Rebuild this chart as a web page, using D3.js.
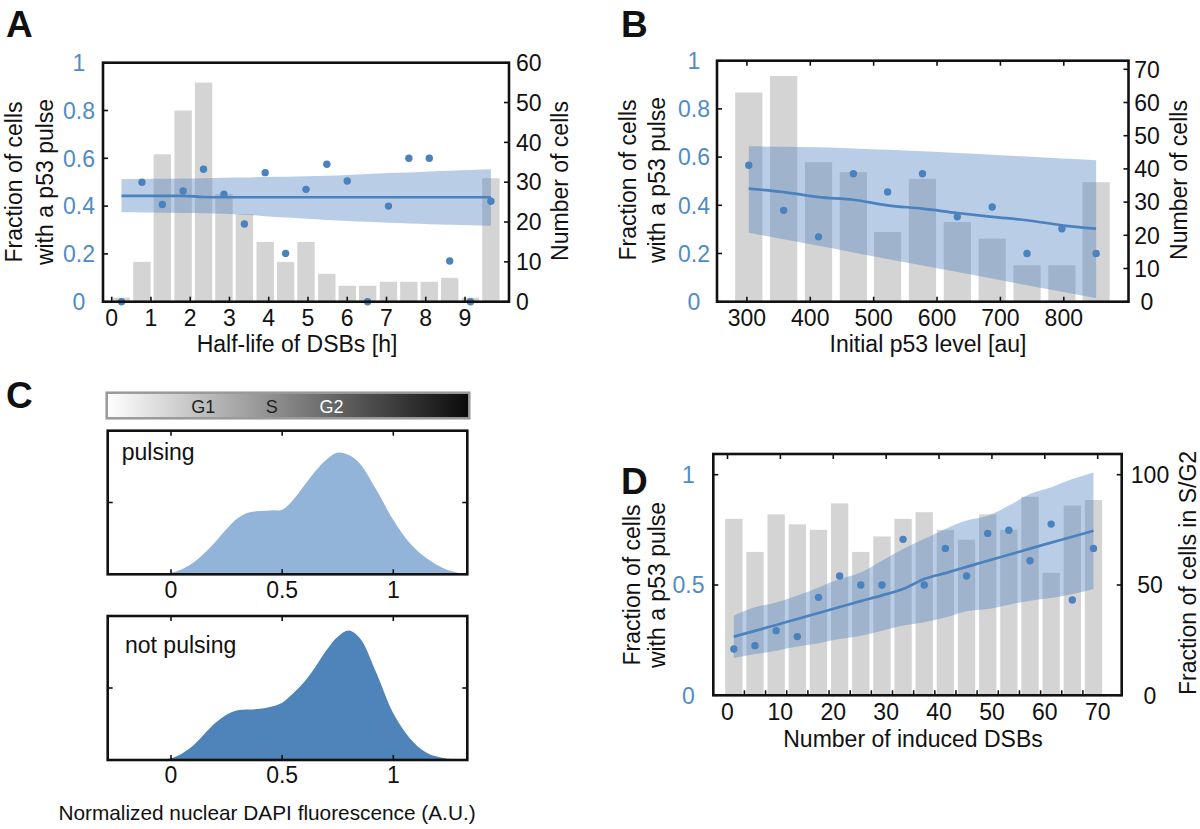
<!DOCTYPE html>
<html><head><meta charset="utf-8">
<script src="https://cdn.jsdelivr.net/npm/d3@7"></script>
<style>body{margin:0;background:#fff;} svg{display:block;font-family:"Liberation Sans",Arial,Helvetica,sans-serif;}</style>
</head><body><svg id="chart" width="1200" height="829"></svg>
<script>
// ---------- Panel A: half-life of DSBs ----------
const aCenters = [0.25,0.77,1.29,1.82,2.34,2.86,3.38,3.91,4.43,4.95,5.48,6.0,6.52,7.05,7.57,8.09,8.61,9.14,9.66];
const aCounts  = [1,10,37,48,55,27,22,15,10,15,7,4,4,5,5,5,6,1,31];
const aFrac    = [0,0.5,0.407,0.463,0.554,0.45,0.325,0.54,0.202,0.47,0.575,0.505,0,0.40,0.60,0.60,0.17,0,0.42];
const aFit     = [0.443,0.443,0.443,0.443,0.438,0.437,0.437,0.437,0.437,0.437,0.437,0.437,0.437,0.437,0.437,0.437,0.437,0.437,0.437];
const aUpper   = [0.512,0.513,0.514,0.515,0.517,0.519,0.52,0.522,0.523,0.525,0.527,0.53,0.534,0.538,0.541,0.545,0.548,0.551,0.554];
const aLower   = [0.374,0.373,0.372,0.371,0.37,0.368,0.364,0.358,0.352,0.347,0.342,0.338,0.334,0.33,0.327,0.324,0.322,0.32,0.318];
const aXTicks  = [0,1,2,3,4,5,6,7,8,9];
const aYTicks  = [0,0.2,0.4,0.6,0.8,1];
const aY2Ticks = [0,10,20,30,40,50,60];

// ---------- Panel B: initial p53 level ----------
const bCenters = [303,358,413,468,522,577,632,687,742,797,851];
const bCounts  = [63,68,42,39,21,37,24,19,11,11,36];
const bFrac    = [0.566,0.379,0.269,0.531,0.455,0.531,0.352,0.393,0.2,0.303,0.2];
const bFit     = [0.469,0.455,0.434,0.423,0.4,0.386,0.368,0.352,0.338,0.317,0.303];
const bUpper   = [0.645,0.643,0.641,0.636,0.63,0.624,0.617,0.61,0.602,0.594,0.587];
const bLower   = [0.286,0.259,0.232,0.204,0.177,0.15,0.123,0.096,0.068,0.041,0.014];
const bXTicks  = [300,400,500,600,700,800];
const bYTicks  = [0,0.2,0.4,0.6,0.8,1];
const bY2Ticks = [0,10,20,30,40,50,60,70];

// ---------- Panel C: DAPI densities ----------
const cX        = [-0.28,-0.15,-0.05,0,0.05,0.1,0.15,0.2,0.25,0.3,0.35,0.4,0.45,0.5,0.55,0.6,0.65,0.7,0.75,0.8,0.85,0.925,1.0,1.075,1.15,1.225,1.3,1.33];
const cPulsing  = [0,0,0.003,0.01,0.035,0.08,0.146,0.227,0.315,0.39,0.43,0.44,0.445,0.45,0.52,0.62,0.72,0.8,0.848,0.83,0.77,0.585,0.378,0.216,0.111,0.042,0.007,0];
const cNotPuls  = [0,0,0.003,0.012,0.046,0.1,0.18,0.258,0.315,0.345,0.35,0.356,0.37,0.398,0.463,0.544,0.648,0.764,0.856,0.9,0.845,0.6,0.324,0.15,0.05,0.014,0.003,0];
const cXTicks   = [0,0.5,1];
const cPhases   = ["G1","S","G2"];
const cPhasePos = [0.266,0.455,0.62];

// ---------- Panel D: number of induced DSBs ----------
const dCenters = [1.2,5.2,9.2,13.2,17.2,21.2,25.2,29.2,33.2,37.2,41.2,45.2,49.2,53.2,57.2,61.2,65.2,69.2];
const dSG2     = [80,65,82,77.5,75,87,65,72,80,83,75,70.5,82,75,90,55.5,86,88.5];
const dFrac    = [0.21,0.225,0.293,0.266,0.444,0.541,0.5,0.5,0.707,0.5,0.666,0.541,0.734,0.748,0.61,0.776,0.432,0.666];
const dFit     = [0.266,0.292,0.319,0.346,0.373,0.4,0.427,0.453,0.482,0.527,0.554,0.582,0.61,0.637,0.665,0.692,0.719,0.746];
const dUpper   = [0.361,0.399,0.421,0.452,0.489,0.527,0.557,0.61,0.663,0.708,0.754,0.792,0.814,0.86,0.912,0.943,0.98,1.01];
const dLower   = [0.169,0.187,0.202,0.221,0.236,0.255,0.27,0.293,0.316,0.331,0.353,0.381,0.391,0.411,0.429,0.441,0.459,0.482];
const dXTicks  = [0,10,20,30,40,50,60,70];
const dBinEdges= [3.2,7.2,11.2,15.2,19.2,23.2,27.2,31.2,35.2,39.2,43.2,47.2,51.2,55.2,59.2,63.2,67.2];
const dYTicks  = [0,0.5,1];
const dY2Ticks = [0,50,100];

// ---------- styles ----------
const BLUE = "#4a82bf", TICKBLUE = "#4f8bc5", BAR = "#d4d4d4", FS = 23;
const svg = d3.select("#chart");

function rotText(g, x, y, txt){
  g.append("text").attr("transform",`translate(${x},${y}) rotate(-90)`)
    .attr("text-anchor","middle").attr("font-size",FS).attr("fill","#111").text(txt);
}

function comboPanel(p){
  const g = svg.append("g");
  const x = d3.scaleLinear().domain(p.xDom).range(p.xRng);
  const yL = d3.scaleLinear().domain([0,1]).range(p.yLRng);
  const yR = d3.scaleLinear().domain([0,p.y2Max]).range(p.yRRng);
  const {l,r,t,b} = p.box;
  g.selectAll("rect.bar").data(p.centers).join("rect")
    .attr("x",(d)=>x(d - p.barW/2)).attr("width",x(p.barW)-x(0))
    .attr("y",(d,i)=>yR(p.counts[i])).attr("height",(d,i)=>yR(0)-yR(p.counts[i]))
    .attr("fill",BAR);
  const band = d3.area().x((d)=>x(d)).y0((d,i)=>yL(p.lower[i])).y1((d,i)=>yL(p.upper[i])).curve(d3.curveMonotoneX);
  g.append("path").attr("d",band(p.centers)).attr("fill",BLUE).attr("fill-opacity",0.39);
  const line = d3.line().x((d)=>x(d)).y((d,i)=>yL(p.fit[i])).curve(d3.curveMonotoneX);
  g.append("path").attr("d",line(p.centers)).attr("fill","none").attr("stroke",BLUE).attr("stroke-width",2.7);
  g.selectAll("circle").data(p.centers).join("circle")
    .attr("cx",(d)=>x(d)).attr("cy",(d,i)=>yL(p.frac[i])).attr("r",3.7).attr("fill",BLUE);
  const tl = 5, ax = g.append("g").attr("stroke","#111").attr("stroke-width",1.6);
  p.bottomTicks.forEach(v=>ax.append("line").attr("x1",x(v)).attr("x2",x(v)).attr("y1",b).attr("y2",b-tl));
  (p.topTicks||[]).forEach(v=>ax.append("line").attr("x1",x(v)).attr("x2",x(v)).attr("y1",t).attr("y2",t+tl));
  p.yTicks.forEach(v=>ax.append("line").attr("x1",l).attr("x2",l+tl).attr("y1",yL(v)).attr("y2",yL(v)));
  p.y2Ticks.forEach(v=>ax.append("line").attr("x1",r).attr("x2",r-tl).attr("y1",yR(v)).attr("y2",yR(v)));
  g.append("rect").attr("x",l).attr("y",t).attr("width",r-l).attr("height",b-t)
    .attr("fill","none").attr("stroke","#111").attr("stroke-width",2.6);
  g.selectAll("text.xl").data(p.xTicks).join("text").attr("class","xl")
    .attr("x",(d)=>x(d)).attr("y",p.xLabelY).attr("text-anchor","middle").attr("font-size",FS).attr("fill","#111").text((d)=>d);
  g.selectAll("text.yl").data(p.yTicks).join("text").attr("class","yl")
    .attr("x",p.yLabelX).attr("y",(d)=>yL(d)).attr("dy","0.36em").attr("text-anchor","middle")
    .attr("font-size",FS).attr("fill",TICKBLUE).text((d)=>d);
  g.selectAll("text.y2l").data(p.y2Ticks).join("text").attr("class","y2l")
    .attr("x",p.y2LabelX).attr("y",(d)=>yR(d)).attr("dy","0.36em").attr("text-anchor",p.y2Anchor)
    .attr("font-size",FS).attr("fill","#111").text((d)=>d);
  g.append("text").attr("x",p.xTitle[0]).attr("y",p.xTitle[1]).attr("text-anchor","middle")
    .attr("font-size",FS).attr("fill","#111").text(p.xTitleText);
  rotText(g,p.yTitle1[0],p.yTitle1[1],"Fraction of cells");
  rotText(g,p.yTitle2[0],p.yTitle2[1],"with a p53 pulse");
  rotText(g,p.y2Title[0],p.y2Title[1],p.y2TitleText);
  g.append("text").attr("x",p.letter[0]).attr("y",p.letter[1]).attr("font-size",37).attr("font-weight","bold")
    .attr("fill","#111").text(p.letterText);
  return {g,x};
}

comboPanel({
  xDom:[0,9], xRng:[111.7,465], yLRng:[301.7,62.7], yRRng:[301.7,62.7], y2Max:60,
  box:{l:103,r:509,t:62.7,b:301.7}, centers:aCenters, counts:aCounts, frac:aFrac, fit:aFit,
  upper:aUpper, lower:aLower, barW:0.443, bottomTicks:aXTicks, xTicks:aXTicks,
  yTicks:aYTicks, y2Ticks:aY2Ticks, xLabelY:326, yLabelX:79, y2LabelX:516, y2Anchor:"start",
  xTitle:[297,352], xTitleText:"Half-life of DSBs [h]",
  yTitle1:[22,182], yTitle2:[53,182], y2Title:[568,181], y2TitleText:"Number of cells",
  letter:[6,37], letterText:"A"
});

comboPanel({
  xDom:[300,800], xRng:[746.9,1063.8], yLRng:[301.7,60.7], yRRng:[301.7,69.3], y2Max:70,
  box:{l:717,r:1128.5,t:60.7,b:301.7}, centers:bCenters, counts:bCounts, frac:bFrac, fit:bFit,
  upper:bUpper, lower:bLower, barW:42.9, bottomTicks:bXTicks, topTicks:bXTicks, xTicks:bXTicks,
  yTicks:bYTicks, y2Ticks:bY2Ticks, xLabelY:326, yLabelX:694, y2LabelX:1147, y2Anchor:"middle",
  xTitle:[928,352], xTitleText:"Initial p53 level [au]",
  yTitle1:[636,180], yTitle2:[665,180], y2Title:[1187,180], y2TitleText:"Number of cells",
  letter:[621,37], letterText:"B"
});

comboPanel({
  xDom:[0,70], xRng:[727.5,1097.7], yLRng:[695.3,474.7], yRRng:[695.3,474.7], y2Max:100,
  box:{l:713.3,r:1121.7,t:454,b:695.3}, centers:dCenters, counts:dSG2, frac:dFrac, fit:dFit,
  upper:dUpper, lower:dLower, barW:3.27, bottomTicks:dBinEdges, topTicks:dXTicks, xTicks:dXTicks,
  yTicks:dYTicks, y2Ticks:dY2Ticks, xLabelY:720, yLabelX:688.5, y2LabelX:1150, y2Anchor:"middle",
  xTitle:[913,747], xTitleText:"Number of induced DSBs",
  yTitle1:[640,585], yTitle2:[665,585], y2Title:[1196,573], y2TitleText:"Fraction of cells in S/G2",
  letter:[621,494], letterText:"D"
});

(function(){
  const g = svg.append("g");
  const x = d3.scaleLinear().domain([0,1]).range([171,393.3]);
  const L = 107.7, R = 467.3;
  const defs = svg.append("defs");
  const lg = defs.append("linearGradient").attr("id","cbar").attr("x1","0").attr("x2","1").attr("y1","0").attr("y2","0");
  lg.append("stop").attr("offset","0").attr("stop-color","#ffffff");
  lg.append("stop").attr("offset","1").attr("stop-color","#0a0a0a");
  g.append("rect").attr("x",106.7).attr("y",392.7).attr("width",362.6).attr("height",25.6)
    .attr("fill","url(#cbar)").attr("stroke","#9a9a9a").attr("stroke-width",2.5);
  g.selectAll("text.ph").data(cPhases).join("text").attr("class","ph")
    .attr("x",(d,i)=>106.7+cPhasePos[i]*362.6).attr("y",413).attr("text-anchor","middle")
    .attr("font-size",18).attr("fill",(d,i)=>i===2?"#ffffff":"#222").text((d)=>d);
  const boxes = [
    {t:430.7,b:574.3,vals:cPulsing,fill:"#92b4d8",label:"pulsing",lx:121.7,ly:460,tickY:598},
    {t:616,b:760,vals:cNotPuls,fill:"#4e84b9",label:"not pulsing",lx:125,ly:653,tickY:783}
  ];
  boxes.forEach(bx=>{
    const y = d3.scaleLinear().domain([0,1]).range([bx.b,bx.t]);
    const area = d3.area().x((d)=>x(d)).y0(bx.b).y1((d,i)=>y(bx.vals[i])).curve(d3.curveCatmullRom);
    g.append("path").attr("d",area(cX)).attr("fill",bx.fill);
    const ax = g.append("g").attr("stroke","#111").attr("stroke-width",1.6);
    cXTicks.forEach(v=>{
      ax.append("line").attr("x1",x(v)).attr("x2",x(v)).attr("y1",bx.t).attr("y2",bx.t+5);
      ax.append("line").attr("x1",x(v)).attr("x2",x(v)).attr("y1",bx.b).attr("y2",bx.b-5);
    });
    const ym = y(0.5);
    ax.append("line").attr("x1",L).attr("x2",L+5).attr("y1",ym).attr("y2",ym);
    ax.append("line").attr("x1",R).attr("x2",R-5).attr("y1",ym).attr("y2",ym);
    g.append("rect").attr("x",L).attr("y",bx.t).attr("width",R-L).attr("height",bx.b-bx.t)
      .attr("fill","none").attr("stroke","#111").attr("stroke-width",2.6);
    g.selectAll(null).data(cXTicks).join("text").attr("x",(d)=>x(d)).attr("y",bx.tickY)
      .attr("text-anchor","middle").attr("font-size",FS).attr("fill","#111").text((d)=>d);
    g.append("text").attr("x",bx.lx).attr("y",bx.ly).attr("font-size",FS).attr("fill","#111").text(bx.label);
  });
  g.append("text").attr("x",267).attr("y",820).attr("text-anchor","middle").attr("font-size",20.8)
    .attr("fill","#111").text("Normalized nuclear DAPI fluorescence (A.U.)");
  g.append("text").attr("x",6).attr("y",408).attr("font-size",37).attr("font-weight","bold").attr("fill","#111").text("C");
})();
</script></body></html>
